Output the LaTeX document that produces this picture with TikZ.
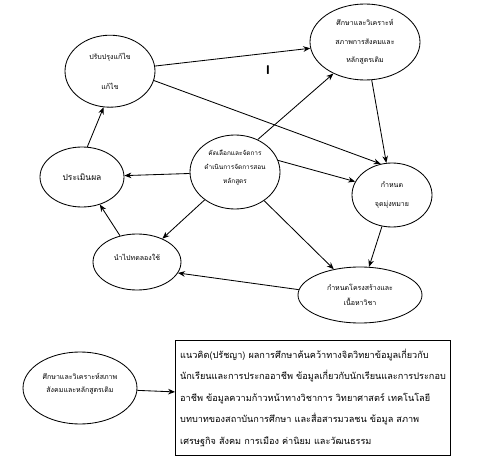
\documentclass[tikz,border=0pt]{standalone}
\usepackage{fontspec}
\newfontfamily\thaifont[Script=Thai]{Loma}
\usetikzlibrary{arrows.meta,shapes.geometric}

\begin{document}
\begin{tikzpicture}[
  elp/.style={draw, ellipse, inner sep=0pt, align=center,
              font=\thaifont\fontsize{5}{13}\selectfont},
  >={Stealth[length=5pt,width=4pt]}, semithick
]
  \useasboundingbox (0,0) rectangle (12,-11.575);

  \node[elp, minimum width=2.75cm, minimum height=1.9cm]  (study) at (9.125,-1.05)  {ศึกษาและวิเคราะห์\\สภาพการสังคมและ\\หลักสูตรเดิม};
  \node[elp, minimum width=2.25cm, minimum height=1.8cm,
        font=\thaifont\fontsize{5}{21}\selectfont]       (fix)   at (2.75,-1.78)   {ปรับปรุงแก้ไข\\แก้ไข};
  \node[elp, minimum width=2.25cm, minimum height=1.85cm,
        font=\thaifont\fontsize{4.6}{10}\selectfont]     (run)   at (5.875,-4.3)   {คัดเลือกและจัดการ\\ดำเนินการจัดการสอน\\หลักสูตร\\[-2pt]\mbox{}};
  \node[elp, minimum width=2.0cm,  minimum height=1.6cm]  (aim)   at (9.8,-4.875)   {กำหนด\\จุดมุ่งหมาย};
  \node[elp, minimum width=2.1cm,  minimum height=1.5cm,
        font=\thaifont\fontsize{6}{13}\selectfont]       (eval)  at (2.05,-4.425)  {ประเมินผล};
  \node[elp, minimum width=2.2cm,  minimum height=1.4cm]  (try)   at (3.425,-6.55)  {นำไปทดลองใช้\\[-6pt]\mbox{}};
  \node[elp, minimum width=3.1cm,  minimum height=1.4cm,
        font=\thaifont\fontsize{5}{11}\selectfont]       (cont)  at (9.0,-7.375)   {กำหนดโครงสร้างและ\\เนื้อหาวิชา};
  \node[elp, minimum width=2.85cm, minimum height=1.8cm,
        font=\thaifont\fontsize{5}{9.5}\selectfont]      (base)  at (2.0,-9.7)     {ศึกษาและวิเคราะห์สภาพ\\สังคมและหลักสูตรเดิม\\[-2pt]\mbox{}};

  \node[draw, minimum width=6.75cm, minimum height=2.875cm, align=left,
        font=\thaifont\fontsize{6.5}{15.3}\selectfont] (data) at (7.825,-9.94)
    {แนวคิด(ปรัชญา) ผลการศึกษาค้นคว้าทางจิตวิทยาข้อมูลเกี่ยวกับ\\
     นักเรียนและการประกออาชีพ ข้อมูลเกี่ยวกับนักเรียนและการประกอบ\\
     อาชีพ ข้อมูลความก้าวหน้าทางวิชาการ วิทยาศาสตร์ เทคโนโลยี\\
     บทบาทของสถาบันการศึกษา และสื่อสารมวลชน ข้อมูล สภาพ\\
     เศรษฐกิจ สังคม การเมือง ค่านิยม และวัฒนธรรม};

  \node[font=\sffamily\bfseries\small] (bar) at (6.7,-1.75) {I};

  \draw[->] (fix) -- (study);
  \draw[->] (fix.-12) -- (aim.110);
  \draw[->] (study) -- (aim);
  \draw[->] (run.55) -- (study.225);
  \draw[->] (run.15) -- (aim.160);
  \draw[->] (run) -- (eval);
  \draw[->] (run) -- (try);
  \draw[->] (run) -- (cont);
  \draw[->] (aim) -- (cont);
  \draw[->] (cont.175) -- (try.-15);
  \draw[->] (try) -- (eval);
  \draw[->] (eval.80) -- (fix.260);
  \draw[->] (base) -- (data);
\end{tikzpicture}
\end{document}
